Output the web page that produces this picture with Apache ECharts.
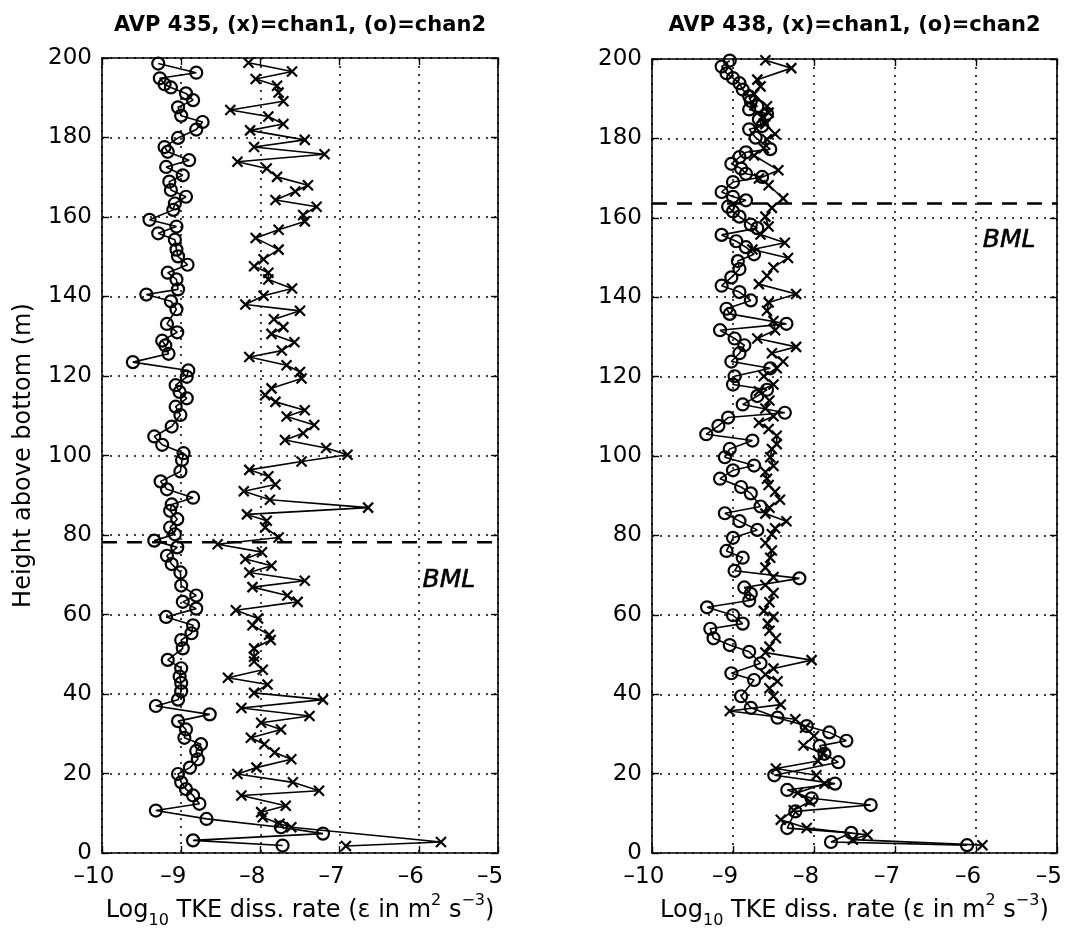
<!DOCTYPE html>
<html><head><meta charset="utf-8">
<script src="https://cdn.jsdelivr.net/npm/echarts@6/dist/echarts.min.js"></script>
<style>html,body{margin:0;padding:0;background:#fff}#c{width:1065px;height:934px}</style>
</head><body><div id="c"></div>
<script>
// ---- tick definitions ----
const xTicks = [-10, -9, -8, -7, -6, -5];
const yTicks = [0, 20, 40, 60, 80, 100, 120, 140, 160, 180, 200];
const titles = ['AVP 435, (x)=chan1, (o)=chan2', 'AVP 438, (x)=chan1, (o)=chan2'];
const yName = 'Height above bottom (m)';

// ---- AVP 435, chan1 (x) ----
const h435c1 = [198.8,196.6,194.7,193.0,191.3,189.1,186.9,185.3,183.4,181.8,179.4,177.6,175.8,173.9,172.2,170.1,168.0,166.4,164.3,162.6,160.5,158.9,156.8,154.7,151.8,149.4,147.6,146.0,144.3,142.0,140.2,138.0,136.4,134.3,132.3,130.6,128.5,126.4,124.8,122.7,121.0,119.4,116.9,115.2,113.5,111.4,109.8,107.7,105.6,103.9,101.9,100.2,98.5,96.4,94.8,92.7,91.0,88.9,86.9,85.2,83.6,81.9,79.4,77.7,75.7,74.0,72.3,70.6,68.5,66.9,64.8,63.2,61.1,59.0,57.3,54.9,53.6,51.5,49.4,48.2,46.1,44.1,42.4,40.3,38.6,36.5,34.5,32.8,31.1,29.0,27.4,25.3,23.6,21.5,19.9,17.8,15.7,14.5,11.9,10.3,9.0,7.4,6.5,2.8,1.8];
const v435c1 = [-8.15,-7.60,-8.06,-7.79,-7.77,-7.71,-8.38,-7.90,-7.71,-8.13,-7.44,-8.08,-7.19,-8.29,-7.92,-7.79,-7.40,-7.56,-7.81,-7.29,-7.46,-7.44,-7.77,-8.06,-7.77,-7.96,-8.08,-7.90,-7.90,-7.60,-7.96,-8.19,-7.50,-7.83,-7.71,-7.86,-7.57,-7.73,-8.14,-7.67,-7.50,-7.48,-7.86,-7.94,-7.81,-7.44,-7.67,-7.32,-7.46,-7.69,-7.17,-6.90,-7.48,-8.14,-7.90,-7.81,-8.21,-7.88,-6.64,-8.17,-7.92,-7.94,-7.77,-8.54,-7.98,-8.19,-7.86,-8.14,-7.44,-8.10,-7.66,-7.53,-8.31,-8.03,-8.10,-7.89,-7.87,-8.08,-8.08,-8.08,-7.97,-8.41,-7.91,-8.08,-7.21,-8.24,-7.38,-7.99,-7.74,-8.12,-7.95,-7.82,-7.61,-8.05,-8.29,-7.59,-7.26,-8.24,-7.68,-7.99,-7.97,-7.76,-7.61,-5.72,-6.92];

// ---- AVP 435, chan2 (o) ----
const h435c2 = [198.6,196.3,194.9,193.4,192.6,191.1,189.4,187.6,185.5,183.9,182.0,179.9,177.6,176.4,174.3,172.6,170.5,168.9,166.8,165.1,163.4,161.8,159.3,157.6,155.9,154.3,151.8,150.1,148.0,146.0,144.3,141.8,140.5,138.8,136.8,133.1,131.0,128.9,127.7,125.6,123.5,121.4,119.8,117.7,116.0,114.4,112.3,110.2,107.3,104.8,102.7,100.6,98.9,96.0,93.5,91.5,89.4,87.7,86.1,84.0,81.9,80.2,78.6,76.9,74.8,72.7,70.6,67.3,64.8,63.2,61.5,59.4,57.3,55.3,53.6,51.5,48.6,46.5,44.4,42.8,40.7,38.6,37.0,34.9,33.2,31.1,29.0,27.4,25.7,23.6,21.5,19.9,17.8,16.1,14.5,12.4,10.7,8.6,6.5,4.9,3.2,1.9];
const v435c2 = [-9.29,-8.81,-9.27,-9.21,-9.13,-8.94,-8.85,-9.04,-9.00,-8.73,-8.81,-9.04,-9.21,-9.17,-8.90,-9.19,-8.98,-9.15,-9.13,-8.94,-9.08,-9.10,-9.40,-9.06,-9.29,-9.08,-9.06,-9.04,-8.92,-9.17,-9.06,-9.04,-9.44,-9.13,-9.06,-9.18,-9.05,-9.24,-9.20,-9.16,-9.61,-8.91,-8.93,-9.07,-9.02,-8.93,-9.07,-9.01,-9.12,-9.34,-9.24,-8.97,-8.99,-9.01,-9.26,-9.18,-8.85,-9.12,-9.14,-9.05,-9.14,-9.08,-9.34,-9.05,-9.18,-9.12,-9.01,-9.00,-8.81,-8.98,-8.81,-9.19,-8.85,-8.87,-9.00,-8.98,-9.17,-9.00,-9.02,-9.00,-9.00,-9.04,-9.32,-8.64,-9.04,-8.94,-8.96,-8.75,-8.81,-8.79,-8.89,-9.04,-9.00,-8.94,-8.85,-8.77,-9.32,-8.68,-7.74,-7.21,-8.85,-7.72];

// ---- AVP 438, chan1 (x) ----
const h438c1 = [199.7,197.7,194.8,193.1,191.1,188.1,186.5,185.2,183.6,181.1,179.8,177.5,175.7,172.0,169.9,168.2,164.9,162.5,160.3,157.8,155.8,153.7,152.0,149.9,147.5,145.4,143.3,140.8,138.7,136.6,134.0,131.7,129.6,127.5,125.9,123.8,122.1,120.1,118.0,116.3,114.0,112.0,110.0,108.4,106.8,105.1,103.0,101.8,99.7,97.5,96.0,94.3,92.7,91.0,89.0,87.0,85.5,83.6,81.8,80.3,78.1,76.2,74.4,71.9,69.5,67.5,65.5,63.2,61.0,59.5,57.8,56.0,54.1,52.0,50.5,48.6,46.5,45.0,43.3,41.5,39.5,37.4,35.8,33.7,31.6,29.5,27.1,25.0,23.2,21.3,19.6,17.5,15.2,13.0,10.8,8.4,6.3,4.6,3.4,2.0];
const v438c1 = [-8.60,-8.28,-8.70,-8.66,-8.74,-8.58,-8.56,-8.64,-8.60,-8.48,-8.58,-8.62,-8.74,-8.44,-8.68,-8.56,-8.38,-8.52,-8.60,-8.56,-8.66,-8.36,-8.76,-8.32,-8.50,-8.58,-8.68,-8.22,-8.56,-8.58,-8.50,-8.48,-8.70,-8.22,-8.52,-8.38,-8.46,-8.62,-8.50,-8.68,-8.55,-8.60,-8.50,-8.68,-8.56,-8.46,-8.46,-8.52,-8.54,-8.50,-8.60,-8.58,-8.56,-8.48,-8.42,-8.55,-8.60,-8.34,-8.48,-8.52,-8.60,-8.52,-8.54,-8.60,-8.50,-8.60,-8.50,-8.55,-8.62,-8.50,-8.57,-8.55,-8.47,-8.55,-8.60,-8.03,-8.50,-8.60,-8.45,-8.55,-8.50,-8.41,-9.04,-8.23,-8.11,-8.00,-8.13,-7.89,-7.95,-8.47,-7.97,-7.87,-8.20,-8.05,-8.25,-8.41,-8.09,-7.34,-7.52,-5.92];

// ---- AVP 438, chan2 (o) ----
const h438c2 = [199.6,198.1,196.4,195.2,193.9,192.3,190.6,189.4,188.1,187.3,186.2,184.8,183.1,182.3,180.2,177.3,176.5,175.3,173.6,172.4,171.1,170.3,169.0,166.5,165.3,164.4,162.8,161.6,160.3,158.3,157.4,155.7,154.1,152.6,150.8,149.1,147.1,145.0,142.9,141.3,139.2,137.1,135.8,133.3,131.7,129.6,127.9,125.9,123.8,122.1,120.1,118.0,116.7,115.1,113.0,110.9,109.7,107.6,105.5,103.9,101.8,99.7,97.6,96.4,94.3,92.2,90.6,87.3,85.6,83.6,81.4,79.4,76.1,74.4,71.1,69.2,66.9,65.3,63.6,61.9,59.9,57.8,56.5,54.1,52.4,50.7,47.8,45.3,43.6,39.5,36.6,34.1,32.0,30.4,28.3,27.0,25.0,22.9,19.6,17.5,15.9,13.8,12.1,10.5,6.3,5.1,2.8,2.0];
const v438c2 = [-9.04,-9.14,-9.08,-9.00,-8.92,-8.88,-8.80,-8.78,-8.70,-8.80,-8.58,-8.68,-8.64,-8.80,-8.72,-8.54,-8.84,-8.92,-9.02,-8.90,-8.84,-8.64,-9.00,-9.14,-9.00,-8.84,-9.06,-9.00,-8.92,-8.78,-8.70,-9.14,-8.96,-8.84,-8.74,-8.94,-8.92,-9.02,-9.14,-8.92,-8.78,-9.08,-9.04,-8.34,-9.16,-8.98,-8.86,-8.92,-9.02,-8.54,-8.98,-9.00,-8.58,-8.70,-8.88,-8.36,-9.06,-9.18,-9.33,-8.76,-9.04,-9.10,-8.74,-9.00,-9.16,-8.90,-8.78,-8.66,-9.10,-8.92,-8.70,-9.00,-9.08,-8.88,-8.98,-8.18,-8.86,-8.78,-8.80,-9.32,-9.00,-8.88,-9.28,-9.24,-9.04,-8.80,-8.66,-9.02,-8.74,-8.90,-8.78,-8.45,-8.09,-7.81,-7.60,-7.93,-7.87,-7.70,-8.49,-7.74,-8.33,-8.03,-7.30,-8.23,-8.33,-7.54,-7.79,-6.11];

// ---- BML annotation ----
const bmlHeight = [78.2, 163.6];
const bmlLabelX = [-5.62, -5.59];
const bmlLabelY = [68.5, 154.3];
const bmlText = 'BML';

const FONT = 'DejaVu Sans';
const fmtX = v => (v < 0 ? '\u2013' + (-v) : String(v));
const grids = [
  {left: 102, top: 58, width: 396, height: 800},
  {left: 652, top: 59, width: 405, height: 803}
];

const xAxes = [], yAxes = [], series = [], titleArr = [];
const panels = [
  {c1h: h435c1, c1v: v435c1, c2h: h435c2, c2v: v435c2},
  {c1h: h438c1, c1v: v438c1, c2h: h438c2, c2v: v438c2}
];
grids.forEach((g, gi) => {
  const base = {
    gridIndex: gi, type: 'value', min: xTicks[0], max: xTicks[xTicks.length - 1], interval: 1,
    axisLine: {show: true, onZero: false, lineStyle: {color: '#000', width: 1.6}},
    axisTick: {show: true, inside: true, length: 7, lineStyle: {color: '#000', width: 1.4}}
  };
  xAxes.push(Object.assign({}, base, {
    position: 'bottom',
    axisLabel: {show: true, formatter: fmtX, fontFamily: FONT, fontSize: 23, color: '#000', margin: 12, padding: [0, 16, 0, 0]},
    splitLine: {show: true, lineStyle: {color: '#000', type: [2, 6], width: 1.5}},
    name: '{m|Log}{sub|10}{m| TKE diss. rate (\u03b5 in m}{sup|2}{m| s}{sup|\u22123}{m|)}',
    nameLocation: 'middle', nameGap: 32,
    nameTextStyle: {
      fontFamily: FONT, color: '#000',
      rich: {
        m: {fontFamily: FONT, fontSize: 24, color: '#000', lineHeight: 36},
        sub: {fontFamily: FONT, fontSize: 16, color: '#000', lineHeight: 8, verticalAlign: 'bottom'},
        sup: {fontFamily: FONT, fontSize: 16, color: '#000', lineHeight: 16, verticalAlign: 'top'}
      }
    }
  }));
  xAxes.push(Object.assign({}, base, {
    position: 'top', axisLabel: {show: false}, splitLine: {show: false}
  }));
  const ybase = {
    gridIndex: gi, type: 'value', min: yTicks[0], max: yTicks[yTicks.length - 1], interval: 20,
    axisLine: {show: true, onZero: false, lineStyle: {color: '#000', width: 1.6}},
    axisTick: {show: true, inside: true, length: 7, lineStyle: {color: '#000', width: 1.4}}
  };
  const yl = Object.assign({}, ybase, {
    position: 'left',
    axisLabel: {show: true, fontFamily: FONT, fontSize: 23, color: '#000', margin: 10},
    splitLine: {show: true, lineStyle: {color: '#000', type: [2, 6], width: 1.5}}
  });
  if (gi === 0) {
    Object.assign(yl, {
      name: yName, nameLocation: 'middle', nameGap: 66, nameRotate: 90,
      nameTextStyle: {fontFamily: FONT, fontSize: 24, color: '#000'}
    });
  }
  yAxes.push(yl);
  yAxes.push(Object.assign({}, ybase, {position: 'right', axisLabel: {show: false}, splitLine: {show: false}}));

  titleArr.push({
    text: titles[gi], left: g.left + g.width / 2, top: 15, textAlign: 'center', padding: 0,
    textStyle: {fontFamily: FONT, fontSize: 21, fontWeight: 'bold', color: '#000'}
  });

  const p = panels[gi];
  const xi = gi * 2, yi = gi * 2;
  series.push({
    type: 'line', xAxisIndex: xi, yAxisIndex: yi,
    data: p.c1h.map((h, i) => [p.c1v[i], h]),
    symbol: 'path://M0 0L10 10M10 0L0 10', symbolSize: 10,
    lineStyle: {color: '#000', width: 1.6},
    itemStyle: {color: 'transparent', borderColor: '#000', borderWidth: 2.2},
    z: 3
  });
  series.push({
    type: 'line', xAxisIndex: xi, yAxisIndex: yi,
    data: p.c2h.map((h, i) => [p.c2v[i], h]),
    symbol: 'circle', symbolSize: 12,
    lineStyle: {color: '#000', width: 1.6},
    itemStyle: {color: 'transparent', borderColor: '#000', borderWidth: 2.2},
    z: 4
  });
  series.push({
    type: 'line', xAxisIndex: xi, yAxisIndex: yi,
    data: [[xTicks[0], bmlHeight[gi]], [xTicks[xTicks.length - 1], bmlHeight[gi]]],
    symbol: 'none', lineStyle: {color: '#000', width: 2.6, type: [15, 10]}, z: 2
  });
  series.push({
    type: 'scatter', xAxisIndex: xi, yAxisIndex: yi,
    data: [[bmlLabelX[gi], bmlLabelY[gi]]],
    symbolSize: 1, itemStyle: {color: 'rgba(0,0,0,0)', opacity: 1},
    label: {show: true, position: 'inside', formatter: bmlText, fontFamily: FONT, fontSize: 25, fontStyle: 'italic',
            color: '#000', opacity: 1, textBorderColor: '#000', textBorderWidth: 0.6}
  });
});

const chart = echarts.init(document.getElementById('c'), null, {renderer: 'canvas'});
chart.setOption({
  backgroundColor: '#fff',
  animation: false,
  title: titleArr,
  grid: grids.map(g => Object.assign({show: false, containLabel: false}, g)),
  xAxis: xAxes,
  yAxis: yAxes,
  series: series
});
</script>
</body></html>
